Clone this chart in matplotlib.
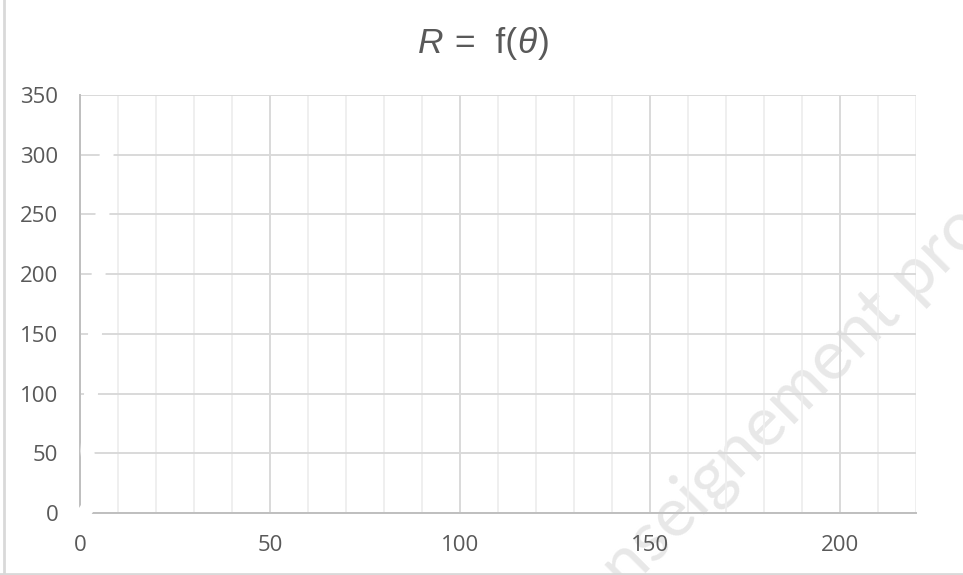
import matplotlib
matplotlib.use("Agg")
import matplotlib.pyplot as plt
from matplotlib.lines import Line2D

# ---- data ----
title_parts = ["R", " =  f(", "θ", ")"]
title_italic = [True, False, True, False]
x_limits = [0, 220]
y_limits = [0, 350]
x_major_ticks = [0, 50, 100, 150, 200]
x_minor_ticks = list(range(0, 221, 10))
y_major_ticks = [0, 50, 100, 150, 200, 250, 300, 350]
# white (invisible) series that masks the gridlines near the y axis
theta_vals = [1.05, 2.3, 2.3, 1.95, 2.9, 3.95, 4.9, 5.9, 7.0, 7.5]
r_vals = [0, 6, 40, 52, 100, 150, 200, 250, 300, 325]
watermark = "enseignement pro"

W, H = 963, 575
fig = plt.figure(figsize=(W/100, H/100), dpi=100)
ax = fig.add_axes([80/W, (H-513)/H, (916-80)/W, (513-95)/H])
ax.set_facecolor('none')

ax.set_xlim(*x_limits)
ax.set_ylim(*y_limits)
ax.set_xticks(x_major_ticks)
ax.set_xticks(x_minor_ticks, minor=True)
ax.set_yticks(y_major_ticks)
ax.set_xticklabels([str(v) for v in x_major_ticks])
ax.set_yticklabels([str(v) for v in y_major_ticks])

ax.grid(which='major', axis='x', color='#d9d9d9', linewidth=1.4, zorder=1)
ax.grid(which='minor', axis='x', color='#efefef', linewidth=1.4, zorder=0.5)
ax.grid(which='major', axis='y', color='#d9d9d9', linewidth=1.4, zorder=1)
ax.set_axisbelow(True)

for side in ['top', 'right']:
    ax.spines[side].set_visible(False)
for side in ['left', 'bottom']:
    ax.spines[side].set_color('#bfbfbf')
    ax.spines[side].set_linewidth(1.4)
    ax.spines[side].set_zorder(2)

ax.tick_params(which='both', length=0)
ax.tick_params(axis='y', pad=15.5, labelsize=16, labelcolor='#595959')
ax.tick_params(axis='x', pad=15.5, labelsize=16, labelcolor='#595959')
for lab in ax.get_xticklabels() + ax.get_yticklabels():
    lab.set_fontfamily('Open Sans')

# white series line
ax.plot(theta_vals, r_vals, color='white', linewidth=10,
        solid_capstyle='round', solid_joinstyle='round',
        clip_on=False, zorder=5)

# title, built piece by piece (italic R and theta) on a common baseline
renderer = fig.canvas.get_renderer()
x_px = 418.0
base_y = (H - 53) / H
for txt, it in zip(title_parts, title_italic):
    t = fig.text(x_px / W, base_y, txt, fontsize=25.5, color='#595959',
                 fontfamily='Liberation Sans',
                 fontstyle='italic' if it else 'normal',
                 va='baseline', ha='left')
    bb = t.get_window_extent(renderer)
    x_px += bb.width + 1

# watermark (behind the axes content)
fig.text(600/W, (H-618)/H, watermark, rotation=45, rotation_mode='anchor',
         ha='left', va='baseline', color='#e8e8e8', fontsize=50,
         fontfamily='Lato', fontweight='normal', zorder=-1)

# chart border
fig.add_artist(Line2D([4/W, 4/W], [0, 1], color='#d9d9d9', linewidth=2,
                      transform=fig.transFigure))
fig.add_artist(Line2D([0, 1], [1/H, 1/H], color='#d9d9d9', linewidth=2,
                      transform=fig.transFigure))

fig.savefig('out.png', dpi=100, facecolor='white')
